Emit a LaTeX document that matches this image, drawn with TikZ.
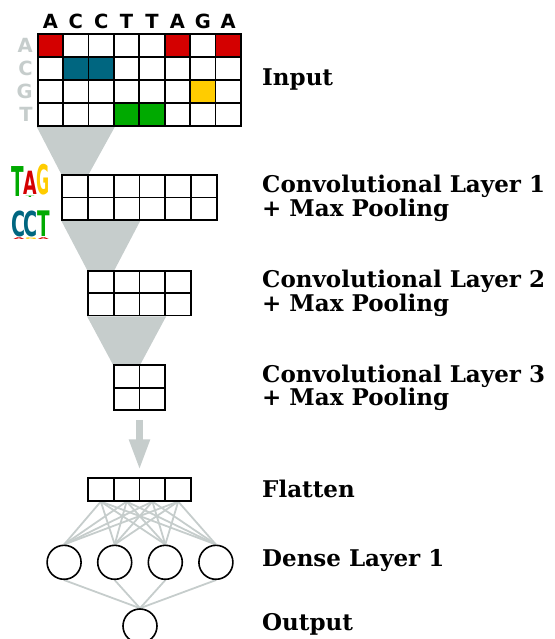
\documentclass[tikz,border=0pt]{standalone}
\usepackage{fontspec}
\usepackage{graphicx}
\usepackage{tikz}
\usetikzlibrary{arrows.meta, positioning, calc, backgrounds}

\newfontfamily\labelfamily{DejaVu Serif}
\newfontfamily\basefamily{DejaVu Sans}

\definecolor{baseA}{HTML}{D40000}
\definecolor{baseC}{HTML}{006680}
\definecolor{baseG}{HTML}{FFCC00}
\definecolor{baseT}{HTML}{00AA00}
\definecolor{fieldgray}{HTML}{C6CDCC}

\tikzset{
  incell/.style={draw, fill=white, line width=1.8pt, inner sep=0pt, minimum width=25.4pt, minimum height=23pt},
  convcell/.style={draw, fill=white, line width=1.7pt, inner sep=0pt, minimum width=25.8pt, minimum height=22.4pt},
  neuron/.style={circle, draw, fill=white, line width=1.6pt, inner sep=0pt, minimum size=34pt},
  link/.style={fieldgray, line width=1.8pt},
  field/.style={fill=fieldgray},
  layerlabel/.style={anchor=base west, align=left, inner sep=0pt, font=\labelfamily\bfseries\fontsize{23}{23.5}\selectfont},
  seqletter/.style={inner sep=0pt, font=\basefamily\bfseries\fontsize{19.5}{20}\selectfont},
  logoletter/.style={inner sep=0pt, anchor=south, font=\basefamily\bfseries\fontsize{16}{16}\selectfont},
  tinyletter/.style={inner sep=0pt, anchor=north, font=\basefamily\bfseries\fontsize{16}{16}\selectfont},
}

\begin{document}
\begin{tikzpicture}[x=1pt, y=-1pt]
\useasboundingbox (0,0) rectangle (554,639);

% one-hot input
\foreach \base [count=\j] in {A,C,G,T} {
  \foreach \i in {1,...,8}
    \node[incell] (in-\j-\i) at (50.4+25.4*\i-25.4, 45.5+23*\j-23) {};
  \node[seqletter, text=fieldgray, left=4pt of in-\j-1] (row-\j) {\base};
}
\foreach \j/\i/\c in {1/1/baseA, 1/6/baseA, 1/8/baseA, 2/2/baseC, 2/3/baseC, 3/7/baseG, 4/4/baseT, 4/5/baseT}
  \node[incell, fill=\c] at (in-\j-\i) {};
\foreach \b [count=\i] in {A,C,C,T,T,A,G,A}
  \node[seqletter, above=4pt of in-1-\i] (col-\i) {\b};

% conv layers
\foreach \layer/\n/\y in {ca/6/186.2, cb/4/281.9, cc/2/376.5}
  \foreach \i in {1,...,\n}
    \foreach \j in {1,2}
      \node[convcell] (\layer-\j-\i) at (139.5+25.8*\i-12.9*\n-12.9, \y+22.4*\j-22.4) {};

% flatten + dense
\foreach \i in {1,...,4}
  \node[convcell] (fl-\i) at (100.8+25.8*\i-25.8, 489.5) {};
\foreach \i in {1,...,4}
  \node[neuron] (d-\i) at (140+50.6*\i-126.5, 562.3) {};
\node[neuron] (out) at (140,626) {};

\begin{scope}[on background layer]
  \fill[field] (in-4-1.south west) -- (in-4-3.south east) -- (ca-1-1.north east) -- (ca-1-1.north west) -- cycle;
  \fill[field] (ca-2-1.south west) -- (ca-2-3.south east) -- (cb-1-1.north east) -- (cb-1-1.north west) -- cycle;
  \fill[field] (cb-2-1.south west) -- (cb-2-3.south east) -- (cc-1-1.north east) -- (cc-1-1.north west) -- cycle;
  \foreach \i in {1,...,4}
    \foreach \k in {1,...,4}
      \draw[link] (fl-\i.south) -- (d-\k.north);
  \foreach \k in {1,...,4}
    \draw[link] (d-\k.south) -- (out.north);
\end{scope}

\coordinate (c3mid) at ($(cc-2-1.south)!0.5!(cc-2-2.south)$);
\coordinate (flmid) at ($(fl-2.north)!0.5!(fl-3.north)$);
\draw[fieldgray, line width=7.5pt, -{Triangle[length=31pt, width=19pt]}, shorten <=9pt, shorten >=7pt] (c3mid) -- (flmid);

% motif logos
\node[logoletter, text=baseT] (m1-t) at (17.5,196.7) {\scalebox{1.15}[2.57]{T}};
\node[logoletter, text=baseA] (m1-a) at (30,195) {\scalebox{1.1}[2.0]{A}};
\node[logoletter, text=baseG] (m1-g) at (43,195.3) {\scalebox{1.0}[2.55]{G}};
\node[tinyletter, text=baseT, below=0.6pt of m1-a] {\scalebox{0.8}[0.12]{T}};
\node[logoletter, text=baseC] (m2-c1) at (19,236.7) {\scalebox{1.2}[2.15]{C}};
\node[logoletter, text=baseC] (m2-c2) at (31,236.7) {\scalebox{1.2}[2.15]{C}};
\node[logoletter, text=baseT] (m2-t) at (43.5,236.7) {\scalebox{1.15}[2.2]{T}};
\node[tinyletter, text=baseA, below=0.6pt of m2-c1] {\scalebox{0.9}[0.15]{A}};
\node[tinyletter, text=baseG, below=0.6pt of m2-c2] {\scalebox{0.9}[0.15]{G}};
\node[tinyletter, text=baseA, below=0.6pt of m2-t] {\scalebox{0.9}[0.15]{A}};

% labels
\node[layerlabel] (lab-in) at (262,85.5) {Input};
\node[layerlabel] (lab-ca) at (262,216) {Convolutional Layer 1\\+ Max Pooling};
\node[layerlabel] (lab-cb) at (262,311) {Convolutional Layer 2\\+ Max Pooling};
\node[layerlabel] (lab-cc) at (262,405.5) {Convolutional Layer 3\\+ Max Pooling};
\node[layerlabel] (lab-fl) at (262,497) {Flatten};
\node[layerlabel] (lab-d) at (262,566.5) {Dense Layer 1};
\node[layerlabel] (lab-out) at (262,630) {Output};
\end{tikzpicture}
\end{document}
